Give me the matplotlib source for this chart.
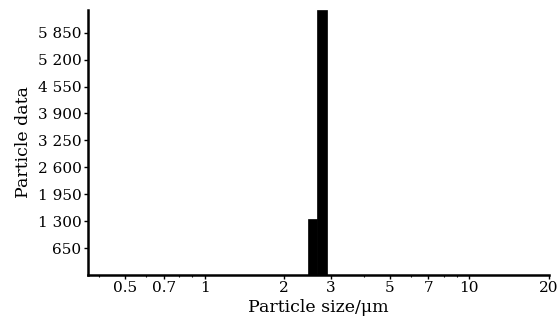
import matplotlib
matplotlib.use("Agg")
import matplotlib.pyplot as plt
import numpy as np

# Histogram data
bin_edges = [2.45, 2.67, 2.91]
counts = [1350, 6400]

y_ticks = [650, 1300, 1950, 2600, 3250, 3900, 4550, 5200, 5850]
y_labels = ["650", "1 300", "1 950", "2 600", "3 250", "3 900", "4 550", "5 200", "5 850"]
x_ticks = [0.5, 0.7, 1, 2, 3, 5, 7, 10, 20]
x_labels = ["0.5", "0.7", "1", "2", "3", "5", "7", "10", "20"]

plt.rcParams['font.family'] = ['DejaVu Serif']
plt.rcParams['font.size'] = 11

fig = plt.figure(figsize=(5.59, 3.22), dpi=100)
ax = fig.add_axes([0.157, 0.146, 0.825, 0.823])

left = np.array(bin_edges[:-1])
widths = np.diff(bin_edges)
ax.bar(left, counts, width=widths, align='edge', color='black', edgecolor='black', linewidth=0.5)

ax.set_xscale('log')
ax.set_xlim(0.362, 20)
ax.set_ylim(0, 6400)

ax.set_xticks(x_ticks)
ax.set_xticklabels(x_labels)
ax.set_yticks(y_ticks)
ax.set_yticklabels(y_labels)
ax.tick_params(axis='both', direction='out', length=3, width=1, pad=1.5, labelsize=11)
ax.tick_params(axis='x', which='minor', length=1.5, width=0.8)

ax.spines['top'].set_visible(False)
ax.spines['right'].set_visible(False)
ax.spines['left'].set_linewidth(1.8)
ax.spines['bottom'].set_linewidth(1.8)

ax.set_xlabel("Particle size/μm", fontsize=12.5, labelpad=3)
ax.set_ylabel("Particle data", fontsize=12.5, labelpad=4)

fig.savefig("out.png", dpi=100)
